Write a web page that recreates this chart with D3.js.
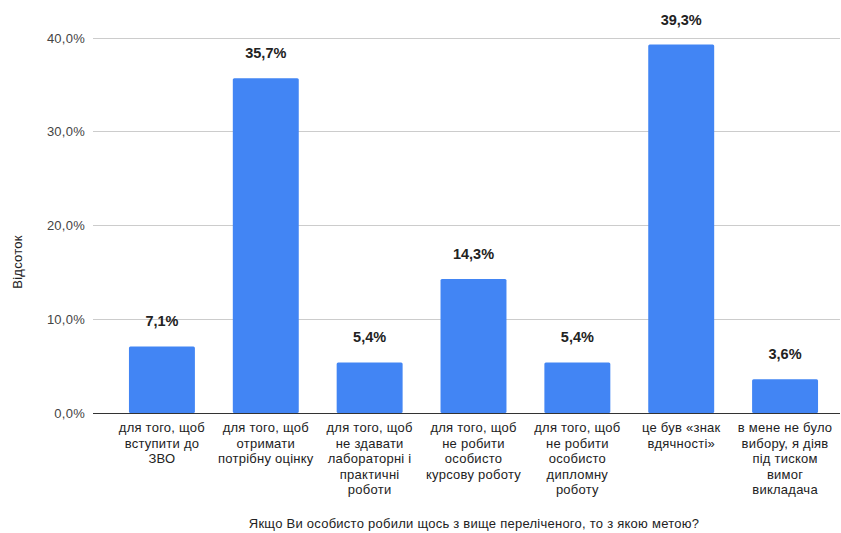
<!DOCTYPE html>
<html><head><meta charset="utf-8">
<script src="https://cdn.jsdelivr.net/npm/d3@7"></script>
<style>body{margin:0;background:#fff}svg{display:block;font-family:Arial,"Liberation Sans",sans-serif}</style>
</head><body>
<svg id="c" width="841" height="533"></svg>
<script>
const categories = [
  "для того, щоб\nвступити до\nЗВО",
  "для того, щоб\nотримати\nпотрібну оцінку",
  "для того, щоб\nне здавати\nлабораторні і\nпрактичні\nроботи",
  "для того, щоб\nне робити\nособисто\nкурсову роботу",
  "для того, щоб\nне робити\nособисто\nдипломну\nроботу",
  "це був «знак\nвдячності»",
  "в мене не було\nвибору, я діяв\nпід тиском\nвимог\nвикладача"
];
const values = [7.1, 35.7, 5.4, 14.3, 5.4, 39.3, 3.6];
const yTicks = [0, 10, 20, 30, 40];
const yTitle = "Відсоток";
const xTitle = "Якщо Ви особисто робили щось з вище переліченого, то з якою метою?";

const svg = d3.select("#c");
const fmt = v => v.toFixed(1).replace(".", ",") + "%";
const x = d3.scaleBand().domain(categories).range([110, 837]).paddingInner(0.365).paddingOuter(0.1825);
const y = d3.scaleLinear().domain([0, 40]).range([413, 38]);

// grid
svg.append("g").selectAll("line").data(yTicks.filter(t => t > 0)).join("line")
  .attr("x1", 93).attr("x2", 840).attr("y1", d => y(d)).attr("y2", d => y(d))
  .attr("stroke", "#cccccc").attr("stroke-width", 1).attr("shape-rendering", "crispEdges");

// y tick labels
svg.append("g").selectAll("text").data(yTicks).join("text")
  .attr("x", 85).attr("y", d => y(d)).attr("dy", "0.35em")
  .attr("text-anchor", "end").attr("font-size", 13).attr("letter-spacing", 0.25).attr("fill", "#444")
  .text(d => d.toFixed(1).replace(".", ",") + "%");

// bars
svg.append("g").selectAll("rect").data(values).join("rect")
  .attr("x", (d, i) => x(categories[i])).attr("width", x.bandwidth())
  .attr("y", d => y(d)).attr("height", d => y(0) - y(d))
  .attr("fill", "#4285f4").attr("rx", 1.5);

// baseline
svg.append("line").attr("x1", 93).attr("x2", 840).attr("y1", y(0)).attr("y2", y(0))
  .attr("stroke", "#333").attr("stroke-width", 1).attr("shape-rendering", "crispEdges");

// value labels
svg.append("g").selectAll("text").data(values).join("text")
  .attr("x", (d, i) => x(categories[i]) + x.bandwidth() / 2)
  .attr("y", d => y(d) - 20)
  .attr("text-anchor", "middle").attr("font-size", 14.5).attr("font-weight", "bold").attr("fill", "#222")
  .text(fmt);

// category labels
const cl = svg.append("g").selectAll("text").data(categories).join("text")
  .attr("x", d => x(d) + x.bandwidth() / 2)
  .attr("y", 432)
  .attr("text-anchor", "middle").attr("font-size", 13).attr("letter-spacing", 0.25).attr("fill", "#222");
cl.each(function(d) {
  const t = d3.select(this);
  d.split("\n").forEach((line, i) => {
    t.append("tspan").attr("x", x(d) + x.bandwidth() / 2).attr("y", 432 + i * 15.6).text(line);
  });
});

// axis titles
svg.append("text").attr("x", 474).attr("y", 528).attr("text-anchor", "middle")
  .attr("font-size", 13).attr("letter-spacing", 0.25).attr("fill", "#222").text(xTitle);
svg.append("text").attr("transform", "translate(22,262) rotate(-90)").attr("text-anchor", "middle")
  .attr("font-size", 13).attr("letter-spacing", 0.25).attr("fill", "#222").text(yTitle);
</script>
</body></html>
